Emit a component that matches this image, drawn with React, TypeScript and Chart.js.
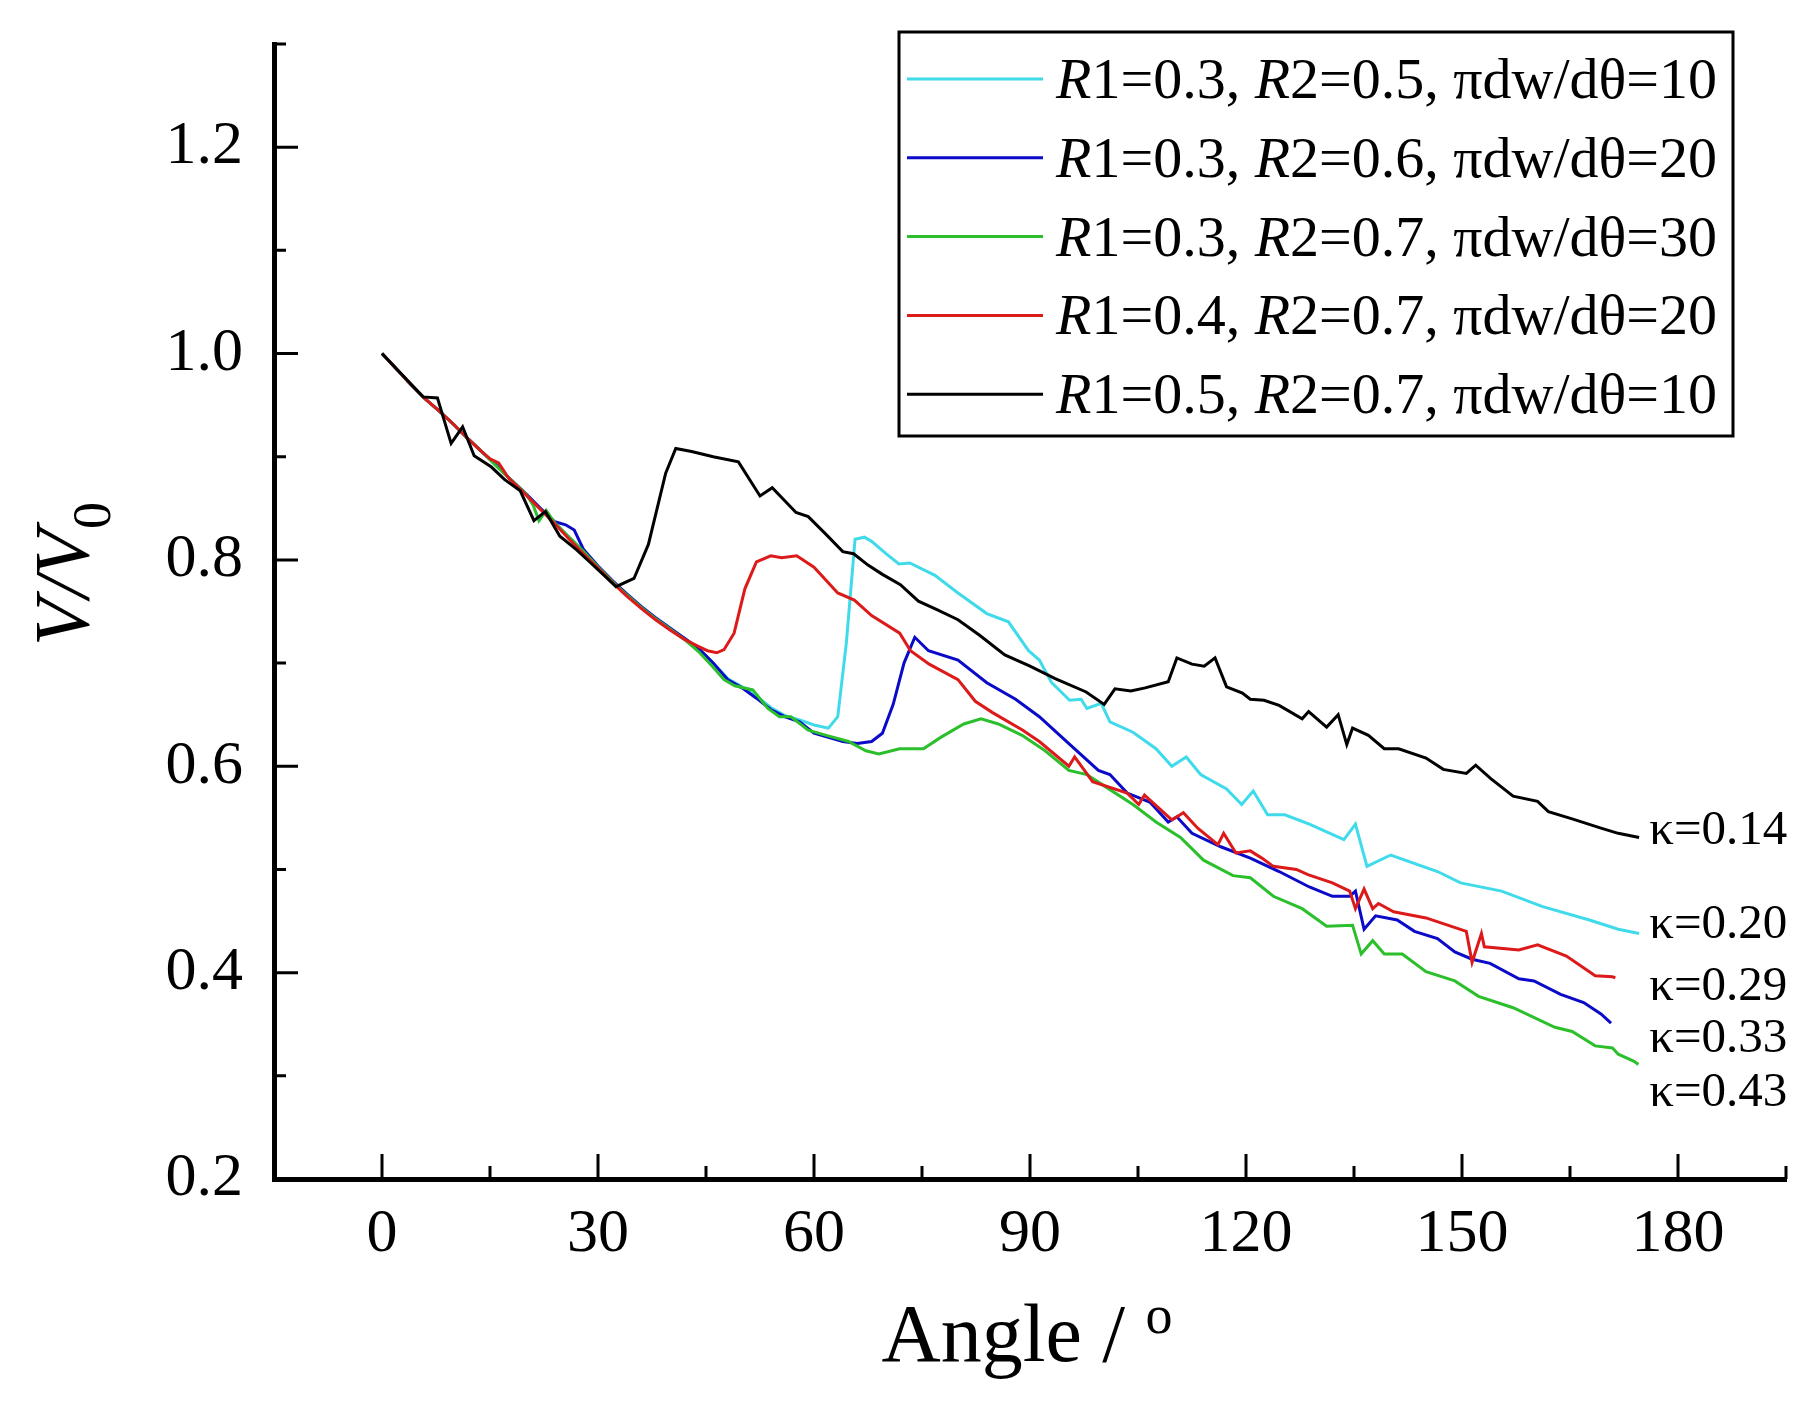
import React, { useEffect, useRef } from 'react';
import { Chart, registerables } from 'chart.js';

Chart.register(...registerables);

// ---- values ----
// start of the curve shared by the four lower runs
const commonAngle = [0, 2, 4, 6, 8, 10, 12, 14];
const commonValue = [1.0, 0.985, 0.97, 0.956, 0.944, 0.931, 0.917, 0.904];

const cyanAngle = [
  16, 18, 20, 22, 24, 26, 28, 30, 32, 34, 36, 38, 40, 42, 44, 46, 48, 50, 52, 54, 56, 58, 60, 62, 63.3, 64.5, 65.7,
  67, 68, 70, 71.8, 73.3, 76.8, 80, 84, 87, 89.8, 91.3, 93, 95.5, 97.1, 97.9, 99.9, 101.1, 104.3, 107.5, 109.7,
  111.7, 113.7, 117.3, 119.4, 121, 123, 125.4, 128.8, 133.6, 135.2, 136.8, 140.1, 146.6, 149.8, 155.5, 161.2,
  167.7, 171.7, 174.6,
];
const cyanValue = [
  0.891, 0.877, 0.864, 0.85, 0.836, 0.822, 0.808, 0.793, 0.779, 0.766, 0.754, 0.743, 0.733, 0.724, 0.714, 0.7,
  0.685, 0.677, 0.668, 0.657, 0.649, 0.645, 0.64, 0.637, 0.648, 0.72, 0.82, 0.822, 0.818, 0.806, 0.796, 0.797,
  0.785, 0.768, 0.748, 0.74, 0.712, 0.703, 0.681, 0.664, 0.665, 0.656, 0.661, 0.643, 0.633, 0.617, 0.6, 0.609,
  0.592, 0.578, 0.563, 0.576, 0.553, 0.553, 0.544, 0.529, 0.544, 0.503, 0.514, 0.498, 0.487, 0.479, 0.464, 0.451,
  0.442, 0.438,
];

const blueAngle = [
  16, 18, 20, 22, 24, 25.5, 26.7, 28, 30, 32, 34, 36, 38, 40, 42, 44, 46, 48, 50, 52, 54, 56, 58, 60, 62, 64, 66,
  68, 69.5, 71, 72.5, 74, 75.9, 80, 84, 88, 91.3, 95.4, 99.5, 101.1, 103.5, 106.7, 109.2, 110.4, 112.5, 116.5,
  120.6, 124.6, 128.8, 132, 134.4, 135.2, 136.4, 138, 141, 143.4, 146.6, 149, 151.4, 153.9, 157.9, 160, 163.7,
  166.9, 169.3, 170.7,
];
const blueValue = [
  0.891, 0.877, 0.864, 0.85, 0.837, 0.834, 0.829, 0.81, 0.794, 0.78, 0.767, 0.755, 0.744, 0.734, 0.724, 0.714,
  0.7, 0.684, 0.676, 0.666, 0.655, 0.648, 0.643, 0.632, 0.628, 0.624, 0.622, 0.624, 0.632, 0.66, 0.7, 0.725,
  0.712, 0.703, 0.681, 0.665, 0.648, 0.622, 0.596, 0.592, 0.574, 0.565, 0.546, 0.551, 0.535, 0.522, 0.511, 0.498,
  0.483, 0.474, 0.474, 0.479, 0.442, 0.455, 0.451, 0.44, 0.433, 0.42, 0.413, 0.409, 0.394, 0.392, 0.379, 0.371,
  0.36, 0.351,
];

const greenAngle = [
  16, 18, 20, 21, 21.8, 22.8, 24, 26, 28, 30, 32, 34, 36, 38, 40, 42, 44, 46, 47.5, 49, 51.5, 53.6, 55.2, 56.8,
  59.2, 61.7, 64.8, 67.2, 69, 71.9, 75.2, 77.6, 80.8, 83.2, 85.6, 88.9, 92.1, 95.4, 97.9, 100.3, 104.3, 107.5,
  110.9, 114.1, 118.2, 120.6, 123.8, 127.8, 131.2, 134.8, 136, 137.6, 139.2, 141.7, 145, 149, 152.3, 157.1,
  162.9, 165.3, 168.5, 170.9, 171.7, 173.9, 174.5,
];
const greenValue = [
  0.89, 0.877, 0.864, 0.853, 0.838, 0.848, 0.836, 0.822, 0.808, 0.793, 0.779, 0.766, 0.754, 0.743, 0.733, 0.723,
  0.711, 0.696, 0.684, 0.678, 0.674, 0.656, 0.648, 0.648, 0.635, 0.63, 0.624, 0.615, 0.612, 0.617, 0.617, 0.628,
  0.641, 0.646, 0.641, 0.63, 0.615, 0.596, 0.592, 0.581, 0.563, 0.546, 0.531, 0.509, 0.494, 0.492, 0.474, 0.462,
  0.445, 0.446, 0.418, 0.431, 0.418, 0.418, 0.401, 0.392, 0.377, 0.366, 0.347, 0.343, 0.329, 0.327, 0.321,
  0.314, 0.311,
];

const redAngle = [
  15, 16.2, 17.5, 20, 22, 24, 26, 28, 30, 32, 34, 36, 38, 40, 42, 44, 45.2, 46.5, 47.5, 48.9, 50.4, 52, 54, 55.5,
  57.6, 60, 61.7, 63.3, 65.6, 68, 71.9, 73.4, 76, 80, 82.4, 84.8, 89, 91.3, 95.4, 96.2, 98.7, 103.5, 105.1, 105.9,
  109.7, 111.3, 113.3, 116.1, 116.9, 118.6, 120.6, 122.2, 123.8, 127, 128.6, 132, 134.4, 135.2, 136.4, 137.6,
  138.4, 140.5, 145, 150.6, 151.4, 152.7, 153.1, 157.9, 160.5, 164.5, 168.5, 170.9, 171.3,
];
const redValue = [
  0.898, 0.894, 0.88, 0.863, 0.849, 0.835, 0.82, 0.806, 0.792, 0.778, 0.765, 0.753, 0.742, 0.732, 0.723, 0.716,
  0.712, 0.71, 0.713, 0.729, 0.772, 0.798, 0.804, 0.802, 0.804, 0.793, 0.78, 0.768, 0.761, 0.746, 0.729, 0.712,
  0.699, 0.684, 0.663, 0.652, 0.635, 0.624, 0.6, 0.609, 0.585, 0.574, 0.563, 0.572, 0.548, 0.555, 0.54, 0.524,
  0.535, 0.516, 0.518, 0.511, 0.503, 0.5, 0.495, 0.487, 0.479, 0.462, 0.481, 0.462, 0.467, 0.459, 0.453, 0.44,
  0.41, 0.438, 0.425, 0.422, 0.427, 0.416, 0.397, 0.396, 0.395,
];

const blackAngle = [
  0, 3, 5.7, 7.7, 9.6, 11.2, 12.8, 15.2, 17, 19.2, 21.1, 22.7, 24.7, 27, 29, 31, 32.5, 35, 37, 39.4, 40.8, 43, 46,
  49.5, 52.5, 54.2, 57.5, 59.2, 61.5, 64, 65.5, 67.5, 69.5, 72, 74.5, 77, 80, 83, 86.5, 90, 93.5, 97.8, 100.3,
  101.8, 104, 106, 109.2, 110.4, 112.5, 114.2, 115.7, 117.3, 119.5, 120.6, 122.5, 124.6, 127.8, 128.7, 131.2,
  132.8, 134, 134.8, 137, 139.2, 141.2, 145, 147.4, 150.6, 151.9, 154, 157.1, 160.5, 162, 165.3, 169.3, 171.7,
  174.6,
];
const blackValue = [
  1.0, 0.978, 0.958, 0.957, 0.913, 0.929, 0.901, 0.89, 0.878, 0.867, 0.838, 0.847, 0.823, 0.81, 0.797, 0.784,
  0.774, 0.782, 0.815, 0.884, 0.908, 0.905, 0.9, 0.895, 0.862, 0.87, 0.846, 0.842, 0.826, 0.808, 0.806, 0.795,
  0.786, 0.776, 0.76, 0.752, 0.742, 0.727, 0.708, 0.697, 0.685, 0.672, 0.66, 0.675, 0.673, 0.676, 0.682, 0.705,
  0.699, 0.697, 0.705, 0.677, 0.671, 0.665, 0.664, 0.659, 0.646, 0.653, 0.638, 0.65, 0.621, 0.637, 0.63, 0.617,
  0.617, 0.608, 0.597, 0.593, 0.601, 0.588, 0.571, 0.566, 0.556, 0.549, 0.54, 0.535, 0.531,
];

// legend order: cyan, blue, green, red, black
const r1Values = [0.3, 0.3, 0.3, 0.4, 0.5];
const r2Values = [0.5, 0.6, 0.7, 0.7, 0.7];
const slopeValues = [10, 20, 30, 20, 10];
const kappaTexts = ['κ=0.20', 'κ=0.33', 'κ=0.43', 'κ=0.29', 'κ=0.14'];
const kappaAngle = 176;
const kappaValue = [0.434, 0.323, 0.271, 0.373, 0.525];

const xMajorTicks = [0, 30, 60, 90, 120, 150, 180];
const xMinorTicks = [15, 45, 75, 105, 135, 165, 195];
const yMajorTicks = [0.2, 0.4, 0.6, 0.8, 1.0, 1.2];
const yMinorTicks = [0.3, 0.5, 0.7, 0.9, 1.1, 1.3];

const COLORS = ['#3fdbeb', '#0a0ac8', '#2cbf2c', '#dd1a1a', '#000000'];
const FONT = '"Liberation Serif", "Times New Roman", serif';

const toPoints = (xs: number[], ys: number[]) => xs.map((x, i) => ({ x, y: ys[i] }));

const seriesPoints = [
  toPoints([...commonAngle, ...cyanAngle], [...commonValue, ...cyanValue]),
  toPoints([...commonAngle, ...blueAngle], [...commonValue, ...blueValue]),
  toPoints([...commonAngle, ...greenAngle], [...commonValue, ...greenValue]),
  toPoints([...commonAngle, ...redAngle], [...commonValue, ...redValue]),
  toPoints(blackAngle, blackValue),
];

// draws text made of roman / italic pieces, returns end x
const drawPieces = (ctx: CanvasRenderingContext2D, pieces: [string, boolean][], x: number, y: number, size: number) => {
  let cx = x;
  pieces.forEach(([t, italic]) => {
    ctx.font = `${italic ? 'italic ' : ''}${size}px ${FONT}`;
    ctx.fillText(t, cx, y);
    cx += ctx.measureText(t).width;
  });
  return cx;
};

// keep the plot frame where the figure has it, whatever the tick labels need
const noScalePadding = (scale: any) => {
  scale.paddingTop = 0;
  scale.paddingBottom = 0;
  scale.paddingLeft = 0;
  scale.paddingRight = 0;
};

const decorPlugin = {
  id: 'figureDecor',
  afterDraw(chart: any) {
    const { ctx, chartArea } = chart;
    const xs = chart.scales.x;
    const ys = chart.scales.y;
    ctx.save();

    // inward ticks
    ctx.strokeStyle = '#000';
    ctx.lineWidth = 3;
    ctx.beginPath();
    xMajorTicks.forEach((v) => {
      const px = xs.getPixelForValue(v);
      ctx.moveTo(px, chartArea.bottom);
      ctx.lineTo(px, chartArea.bottom - 25);
    });
    xMinorTicks.forEach((v) => {
      const px = xs.getPixelForValue(v);
      ctx.moveTo(px, chartArea.bottom);
      ctx.lineTo(px, chartArea.bottom - 13);
    });
    yMajorTicks.forEach((v) => {
      const py = ys.getPixelForValue(v);
      ctx.moveTo(chartArea.left, py);
      ctx.lineTo(chartArea.left + 24, py);
    });
    yMinorTicks.forEach((v) => {
      const py = ys.getPixelForValue(v);
      ctx.moveTo(chartArea.left, py);
      ctx.lineTo(chartArea.left + 12, py);
    });
    ctx.stroke();

    ctx.fillStyle = '#000';
    ctx.textBaseline = 'alphabetic';
    ctx.textAlign = 'left';

    // kappa labels at the line ends
    ctx.font = `49px ${FONT}`;
    kappaTexts.forEach((t, i) => {
      ctx.fillText(t, xs.getPixelForValue(kappaAngle), ys.getPixelForValue(kappaValue[i]));
    });

    // legend box
    const bx = 899;
    const by = 32;
    const bw = 834;
    const bh = 404;
    ctx.fillStyle = '#fff';
    ctx.fillRect(bx, by, bw, bh);
    ctx.strokeStyle = '#000';
    ctx.lineWidth = 3;
    ctx.strokeRect(bx, by, bw, bh);
    r1Values.forEach((r1, i) => {
      const ly = 79 + i * 78.8;
      ctx.strokeStyle = COLORS[i];
      ctx.lineWidth = 3;
      ctx.beginPath();
      ctx.moveTo(907, ly);
      ctx.lineTo(1043, ly);
      ctx.stroke();
      ctx.fillStyle = '#000';
      drawPieces(
        ctx,
        [
          ['R', true],
          [`1=${r1}, `, false],
          ['R', true],
          [`2=${r2Values[i]}, πdw/dθ=${slopeValues[i]}`, false],
        ],
        1056,
        ly + 19,
        58,
      );
    });

    // x title
    ctx.fillStyle = '#000';
    ctx.font = `82px ${FONT}`;
    const main = 'Angle / ';
    const mainW = ctx.measureText(main).width;
    ctx.font = `54px ${FONT}`;
    const supW = ctx.measureText('o').width;
    const tx = (chartArea.left + chartArea.right) / 2 - (mainW + supW) / 2 - 3;
    ctx.font = `82px ${FONT}`;
    ctx.fillText(main, tx, 1361);
    ctx.font = `54px ${FONT}`;
    ctx.fillText('o', tx + mainW, 1333);

    // y title, rotated
    ctx.translate(88, 574);
    ctx.rotate(-Math.PI / 2);
    ctx.font = `italic 78px ${FONT}`;
    const vw = ctx.measureText('V/V').width;
    ctx.font = `54px ${FONT}`;
    const zw = ctx.measureText('0').width;
    const sx = -(vw + zw) / 2;
    ctx.font = `italic 78px ${FONT}`;
    ctx.fillText('V/V', sx, 0);
    ctx.font = `54px ${FONT}`;
    ctx.fillText('0', sx + vw, 22);

    ctx.restore();
  },
};

const App: React.FC = () => {
  const canvasRef = useRef<HTMLCanvasElement>(null);
  const chartRef = useRef<Chart | null>(null);

  useEffect(() => {
    if (!canvasRef.current) return;
    if (chartRef.current) chartRef.current.destroy();

    // draw black on top, cyan at the bottom
    const drawOrder = [4, 3, 2, 1, 0];
    chartRef.current = new Chart(canvasRef.current, {
      type: 'scatter',
      data: {
        datasets: drawOrder.map((i) => ({
          data: seriesPoints[i],
          showLine: true,
          borderColor: COLORS[i],
          backgroundColor: COLORS[i],
          borderWidth: 3,
          pointRadius: 0,
          tension: 0,
        })),
      },
      options: {
        animation: false,
        responsive: true,
        maintainAspectRatio: false,
        layout: { padding: { top: 44, right: 29, left: 0, bottom: 0 } },
        plugins: { legend: { display: false }, tooltip: { enabled: false } },
        scales: {
          x: {
            type: 'linear',
            min: -15,
            max: 195,
            afterBuildTicks: (scale: any) => {
              scale.ticks = xMajorTicks.map((v) => ({ value: v }));
            },
            afterFit: (scale: any) => {
              scale.height = 225;
              noScalePadding(scale);
            },
            grid: { display: false, drawTicks: false },
            border: { display: true, color: '#000', width: 5 },
            ticks: {
              autoSkip: false,
              maxRotation: 0,
              padding: 19,
              color: '#000',
              font: { family: FONT, size: 62 },
              callback: (v: any) => String(v),
            },
          },
          y: {
            type: 'linear',
            min: 0.2,
            max: 1.3,
            afterBuildTicks: (scale: any) => {
              scale.ticks = yMajorTicks.map((v) => ({ value: v }));
            },
            afterFit: (scale: any) => {
              scale.width = 274;
              noScalePadding(scale);
            },
            grid: { display: false, drawTicks: false },
            border: { display: true, color: '#000', width: 5 },
            ticks: {
              padding: 31,
              color: '#000',
              font: { family: FONT, size: 62 },
              callback: (v: any) => Number(v).toFixed(1),
            },
          },
        },
      },
      plugins: [decorPlugin],
    } as any);

    return () => {
      if (chartRef.current) {
        chartRef.current.destroy();
        chartRef.current = null;
      }
    };
  }, []);

  return (
    <div style={{ position: 'fixed', left: 0, top: 0, width: 1815, height: 1404, background: '#fff' }}>
      <canvas ref={canvasRef}></canvas>
    </div>
  );
};

export default App;
